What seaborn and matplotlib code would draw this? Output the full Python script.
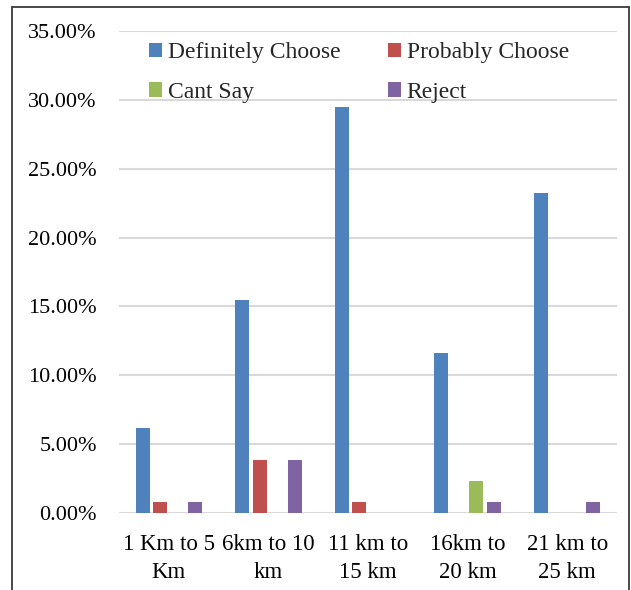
import pandas as pd
import seaborn as sns
import matplotlib.pyplot as plt
from matplotlib.patches import Patch
from matplotlib.ticker import PercentFormatter, MultipleLocator
from matplotlib.lines import Line2D

# distance bands (x axis)
distances = ['1 Km to 5\nKm', '6km to 10\nkm', '11 km to\n15 km',
             '16km to\n20 km', '21 km to\n25 km']
responses = ['Definitely Choose', 'Probably Choose', 'Cant Say', 'Reject']
colors = ['#4F81BD', '#C0504D', '#9BBB59', '#8064A2']

# share of respondents, percent
definitely = [6.20, 15.50, 29.46, 11.63, 23.26]
probably = [0.78, 3.88, 0.78, 0.00, 0.00]
cant_say = [0.00, 0.00, 0.00, 2.33, 0.00]
reject = [0.78, 3.88, 0.00, 0.78, 0.78]

df = pd.DataFrame({'distance': distances, 'Definitely Choose': definitely,
                   'Probably Choose': probably, 'Cant Say': cant_say,
                   'Reject': reject})
df = df.melt(id_vars='distance', var_name='response', value_name='share')

sns.set_style('white')
plt.rcParams['font.family'] = ['Liberation Serif', 'DejaVu Serif']

fig = plt.figure(figsize=(6.31, 5.90), dpi=100)
ax = fig.add_axes([119 / 631, 1 - 513 / 590, 498 / 631, 482 / 590])

sns.barplot(data=df, x='distance', y='share', hue='response',
            hue_order=responses, palette=colors, saturation=1,
            width=0.70, gap=0.2, linewidth=0, legend=False, ax=ax)

ax.set_ylim(0, 35)
ax.yaxis.set_major_locator(MultipleLocator(5))
ax.yaxis.set_major_formatter(PercentFormatter(decimals=2))
ax.set_axisbelow(True)
ax.grid(axis='y', color='#d9d9d9', linewidth=1.5)
for s in ax.spines.values():
    s.set_visible(False)
ax.tick_params(axis='both', length=0, colors='black')
ax.tick_params(axis='y', pad=16, labelsize=16)
ax.tick_params(axis='x', pad=15, labelsize=16.5)
for t in ax.get_xticklabels():
    t.set_linespacing(1.45)
ax.set_xlabel('')
ax.set_ylabel('')

# legend, two columns filled row by row
order = [0, 2, 1, 3]
handles = [Patch(facecolor=colors[i], edgecolor='none') for i in order]
labels = [responses[i] for i in order]
ax.legend(handles, labels, ncol=2, frameon=False, fontsize=17,
          loc='upper left', bbox_to_anchor=(149 / 631, 1 - 42 / 590),
          bbox_transform=fig.transFigure, borderpad=0, borderaxespad=0,
          handlelength=0.55, handleheight=0.55, handletextpad=0.25,
          columnspacing=2.0, labelspacing=0.8)

# outer chart border
x0, x1, y0 = 12 / 631, 629 / 631, 1 - 7 / 590
for xs, ys in [([x0, x0], [-0.1, y0]), ([x0, x1], [y0, y0]),
               ([x1, x1], [y0, -0.1])]:
    fig.add_artist(Line2D(xs, ys, color='#3a3a3a', linewidth=1.3,
                          transform=fig.transFigure))

fig.savefig('out.png', dpi=100)
